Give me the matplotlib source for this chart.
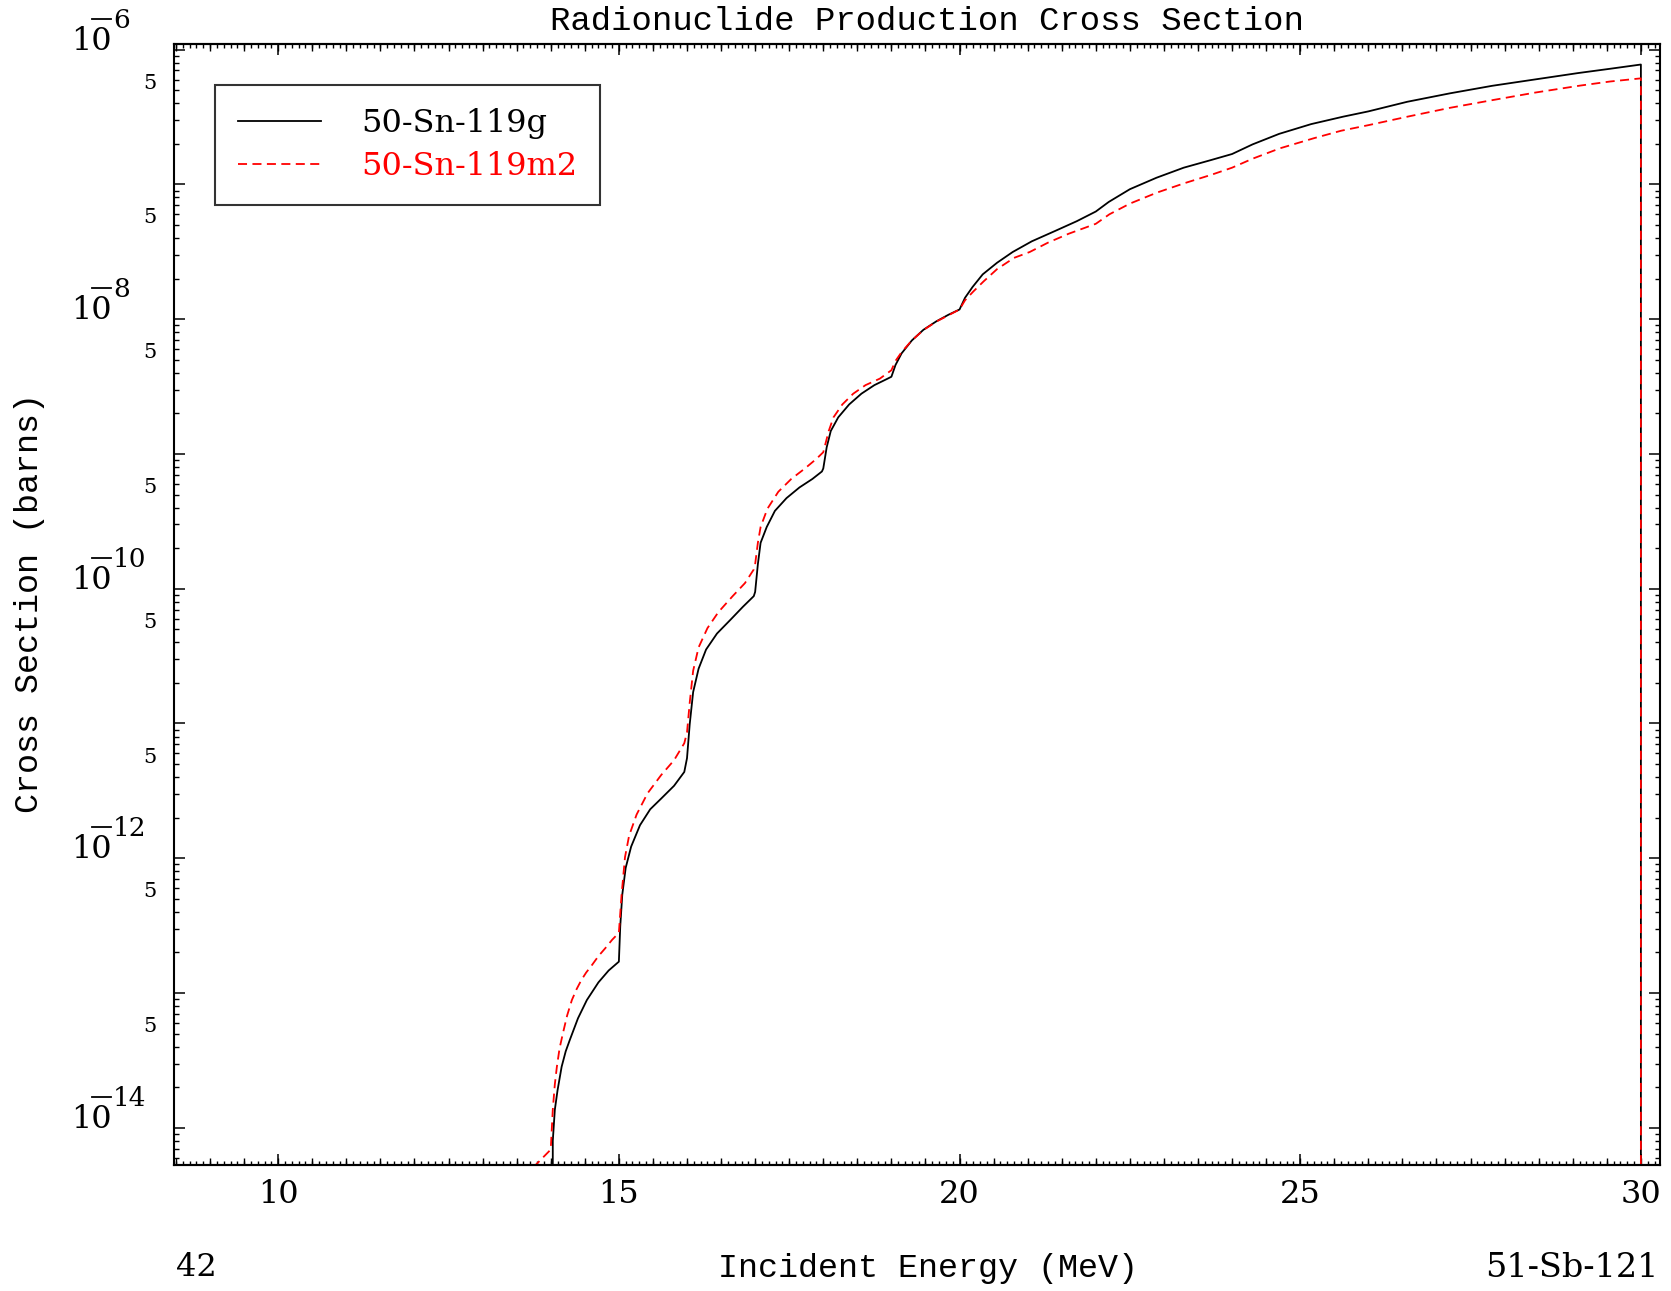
import matplotlib
matplotlib.use('Agg')
import matplotlib.pyplot as plt
from matplotlib.ticker import MultipleLocator, LogLocator, NullFormatter
from matplotlib.transforms import offset_copy
from matplotlib.lines import Line2D

plt.rcParams['font.family'] = 'DejaVu Serif'

# 50-Sn-119g  (incident energy in MeV, cross section in barns)
e_g = [14.0, 14.03, 14.06, 14.1, 14.16, 14.22, 14.28, 14.4, 14.53, 14.7, 14.85, 15.0,
       15.02, 15.05, 15.1, 15.18, 15.31, 15.46, 15.62, 15.81, 15.96, 16.0,
       16.04, 16.09, 16.17, 16.28, 16.44, 16.64, 16.82, 16.98, 17.0,
       17.04, 17.08, 17.17, 17.29, 17.46, 17.65, 17.84, 17.98, 18.0,
       18.05, 18.11, 18.22, 18.38, 18.56, 18.75, 18.94, 19.0,
       19.06, 19.15, 19.3, 19.47, 19.66, 19.84, 20.0,
       20.08, 20.19, 20.34, 20.55, 20.78, 21.06, 21.41, 21.72, 22.0,
       22.19, 22.5, 22.89, 23.29, 23.68, 24.0,
       24.3, 24.69, 25.16, 25.63, 26.0,
       26.57, 27.2, 27.82, 28.45, 29.08, 29.55, 30.0, 30.0]
xs_g = [0.0, 8.0e-15, 1.36e-14, 1.9e-14, 2.84e-14, 3.7e-14, 4.49e-14, 6.5e-14, 8.87e-14, 1.2e-13, 1.47e-13, 1.71e-13,
        3.12e-13, 5.38e-13, 8.49e-13, 1.22e-12, 1.76e-12, 2.31e-12, 2.77e-12, 3.45e-12, 4.37e-12, 5.53e-12,
        9.91e-12, 1.71e-11, 2.55e-11, 3.54e-11, 4.65e-11, 5.90e-11, 7.34e-11, 8.81e-11, 9.47e-11,
        1.52e-10, 2.19e-10, 2.87e-10, 3.78e-10, 4.70e-10, 5.64e-10, 6.52e-10, 7.41e-10, 7.8e-10,
        1.12e-9, 1.48e-9, 1.87e-9, 2.33e-9, 2.80e-9, 3.24e-9, 3.61e-9, 3.74e-9,
        4.57e-9, 5.58e-9, 6.95e-9, 8.34e-9, 9.64e-9, 1.08e-8, 1.18e-8,
        1.44e-8, 1.73e-8, 2.15e-8, 2.62e-8, 3.15e-8, 3.78e-8, 4.53e-8, 5.33e-8, 6.29e-8,
        7.41e-8, 9.21e-8, 1.12e-7, 1.33e-7, 1.51e-7, 1.68e-7,
        1.98e-7, 2.37e-7, 2.80e-7, 3.18e-7, 3.48e-7,
        4.10e-7, 4.74e-7, 5.39e-7, 6.01e-7, 6.70e-7, 7.21e-7, 7.75e-7, 0.0]

# 50-Sn-119m2
e_m = [13.0, 14.0, 14.03, 14.06, 14.09, 14.13, 14.18, 14.24, 14.31, 14.38, 14.45, 14.52, 14.6, 14.7, 14.8, 14.9, 15.0,
       15.04, 15.09, 15.15, 15.26, 15.42, 15.62, 15.81, 15.96, 16.0,
       16.04, 16.09, 16.17, 16.3, 16.46, 16.67, 16.85, 16.98, 17.0,
       17.04, 17.08, 17.18, 17.34, 17.53, 17.73, 17.9, 18.0,
       18.08, 18.15, 18.28, 18.44, 18.62, 18.83, 19.0,
       19.06, 19.15, 19.3, 19.47, 19.66, 19.84, 20.0,
       20.08, 20.2, 20.35, 20.55, 20.8, 21.03, 21.3, 21.6, 22.0,
       22.2, 22.5, 22.9, 23.3, 23.7, 24.0,
       24.3, 24.7, 25.2, 25.6, 26.0,
       26.6, 27.2, 27.8, 28.45, 29.1, 29.55, 30.0, 30.0]
xs_m = [2.1e-15, 6.9e-15, 1.36e-14, 2.1e-14, 2.84e-14, 3.9e-14, 5.06e-14, 6.8e-14, 8.87e-14, 1.07e-13, 1.25e-13, 1.42e-13, 1.6e-13, 1.88e-13, 2.15e-13, 2.48e-13, 2.8e-13,
        5.38e-13, 1.02e-12, 1.47e-12, 2.11e-12, 3.03e-12, 4.14e-12, 5.34e-12, 7.14e-12, 8.57e-12,
        1.43e-11, 2.46e-11, 3.67e-11, 5.10e-11, 6.70e-11, 8.81e-11, 1.10e-10, 1.39e-10, 1.52e-10,
        2.19e-10, 2.87e-10, 3.92e-10, 5.24e-10, 6.52e-10, 7.8e-10, 9.20e-10, 1.03e-9,
        1.48e-9, 1.87e-9, 2.33e-9, 2.80e-9, 3.24e-9, 3.62e-9, 4.18e-9,
        4.9e-9, 5.7e-9, 6.95e-9, 8.3e-9, 9.6e-9, 1.07e-8, 1.18e-8,
        1.38e-8, 1.6e-8, 1.9e-8, 2.35e-8, 2.85e-8, 3.15e-8, 3.7e-8, 4.3e-8, 5.1e-8,
        6.0e-8, 7.2e-8, 8.7e-8, 1.02e-7, 1.18e-7, 1.33e-7,
        1.55e-7, 1.85e-7, 2.2e-7, 2.5e-7, 2.75e-7,
        3.2e-7, 3.7e-7, 4.2e-7, 4.8e-7, 5.4e-7, 5.8e-7, 6.12e-7, 0.0]

labels = ['50-Sn-119g', '50-Sn-119m2']
decades = [-14, -12, -10, -8, -6]
fives = [-14, -13, -12, -11, -10, -9, -8, -7]

fig = plt.figure(figsize=(16.71, 12.91), dpi=100)
ax = fig.add_axes([0.1041, 0.0976, 0.8893, 0.8683])

ax.plot(e_g, xs_g, color='black', lw=1.3, label=labels[0])
ax.plot(e_m, xs_m, color='red', lw=1.3, dashes=(5, 3), label=labels[1])

ax.set_yscale('log', nonpositive='clip')
ax.set_xlim(8.47, 30.28)
ax.set_ylim(5.3e-15, 1.1e-6)

for s in ax.spines.values():
    s.set_linewidth(1.5)

ax.xaxis.set_major_locator(MultipleLocator(5))
ax.xaxis.set_minor_locator(MultipleLocator(0.1))
ax.yaxis.set_major_locator(LogLocator(base=10, numticks=30))
ax.yaxis.set_minor_locator(LogLocator(base=10, subs=range(2, 10), numticks=100))
ax.yaxis.set_major_formatter(NullFormatter())
ax.yaxis.set_minor_formatter(NullFormatter())
ax.tick_params(which='both', direction='in', top=True, right=True)
ax.tick_params(which='major', length=8, width=1.1)
ax.tick_params(axis='x', which='minor', length=3, width=1.0)
ax.tick_params(axis='y', which='minor', length=3.6, width=1.0)
ax.tick_params(axis='x', labelsize=23, pad=10)

# medium ticks every 0.5 MeV
for side in ('bottom', 'top'):
    sec = ax.secondary_xaxis(side)
    sec.xaxis.set_major_locator(MultipleLocator(0.5))
    sec.tick_params(direction='in', length=5, width=1.0,
                    labelbottom=False, labeltop=False)
    sec.spines[side].set_linewidth(1.5)

# y tick labels drawn by hand
ytr = ax.get_yaxis_transform()
axw = 0.8893 * 1671
for e in decades:
    v = 10.0 ** e
    ax.text(0, v, '10', transform=offset_copy(ytr, fig=fig, x=-62, y=0, units='dots'),
            ha='right', va='baseline', fontsize=23)
    ax.text(0, v, str(-e), transform=offset_copy(ytr, fig=fig, x=-61, y=22, units='dots'),
            ha='left', va='baseline', fontsize=19)
    fig.add_artist(Line2D([-82 / axw, -63 / axw], [v, v], color='black', lw=1.3,
                          transform=offset_copy(ytr, fig=fig, x=0, y=31, units='dots'),
                          clip_on=False))
for n in fives:
    ax.text(0, 5 * 10.0 ** n, '5',
            transform=offset_copy(ytr, fig=fig, x=-17, y=7, units='dots'),
            ha='right', va='center', fontsize=15)

leg = ax.legend(loc='upper left', bbox_to_anchor=(0.0276, 0.9634), borderaxespad=0,
                fancybox=False, edgecolor='black', labelcolor='linecolor',
                prop={'family': 'DejaVu Serif', 'size': 23},
                handlelength=2.6, handletextpad=1.25, borderpad=0.72, labelspacing=0.375)
leg.get_frame().set_linewidth(1.5)

mono = 'Liberation Mono'
fig.text(927 / 1671, 1 - 21 / 1291, 'Radionuclide Production Cross Section',
         ha='center', va='center', fontsize=24.5, family=mono)
fig.text(928 / 1671, 1 - 1268 / 1291, 'Incident Energy (MeV)',
         ha='center', va='center', fontsize=24, family=mono)
fig.text(30 / 1671, 1 - 603 / 1291, 'Cross Section (barns)', rotation=90,
         ha='center', va='center', fontsize=24, family=mono)
fig.text(176 / 1671, 1 - 1268 / 1291, '42', ha='left', va='center', fontsize=23)
fig.text(1658 / 1671, 1 - 1268 / 1291, '51-Sb-121', ha='right', va='center', fontsize=24)

fig.savefig('out.png', dpi=100)
